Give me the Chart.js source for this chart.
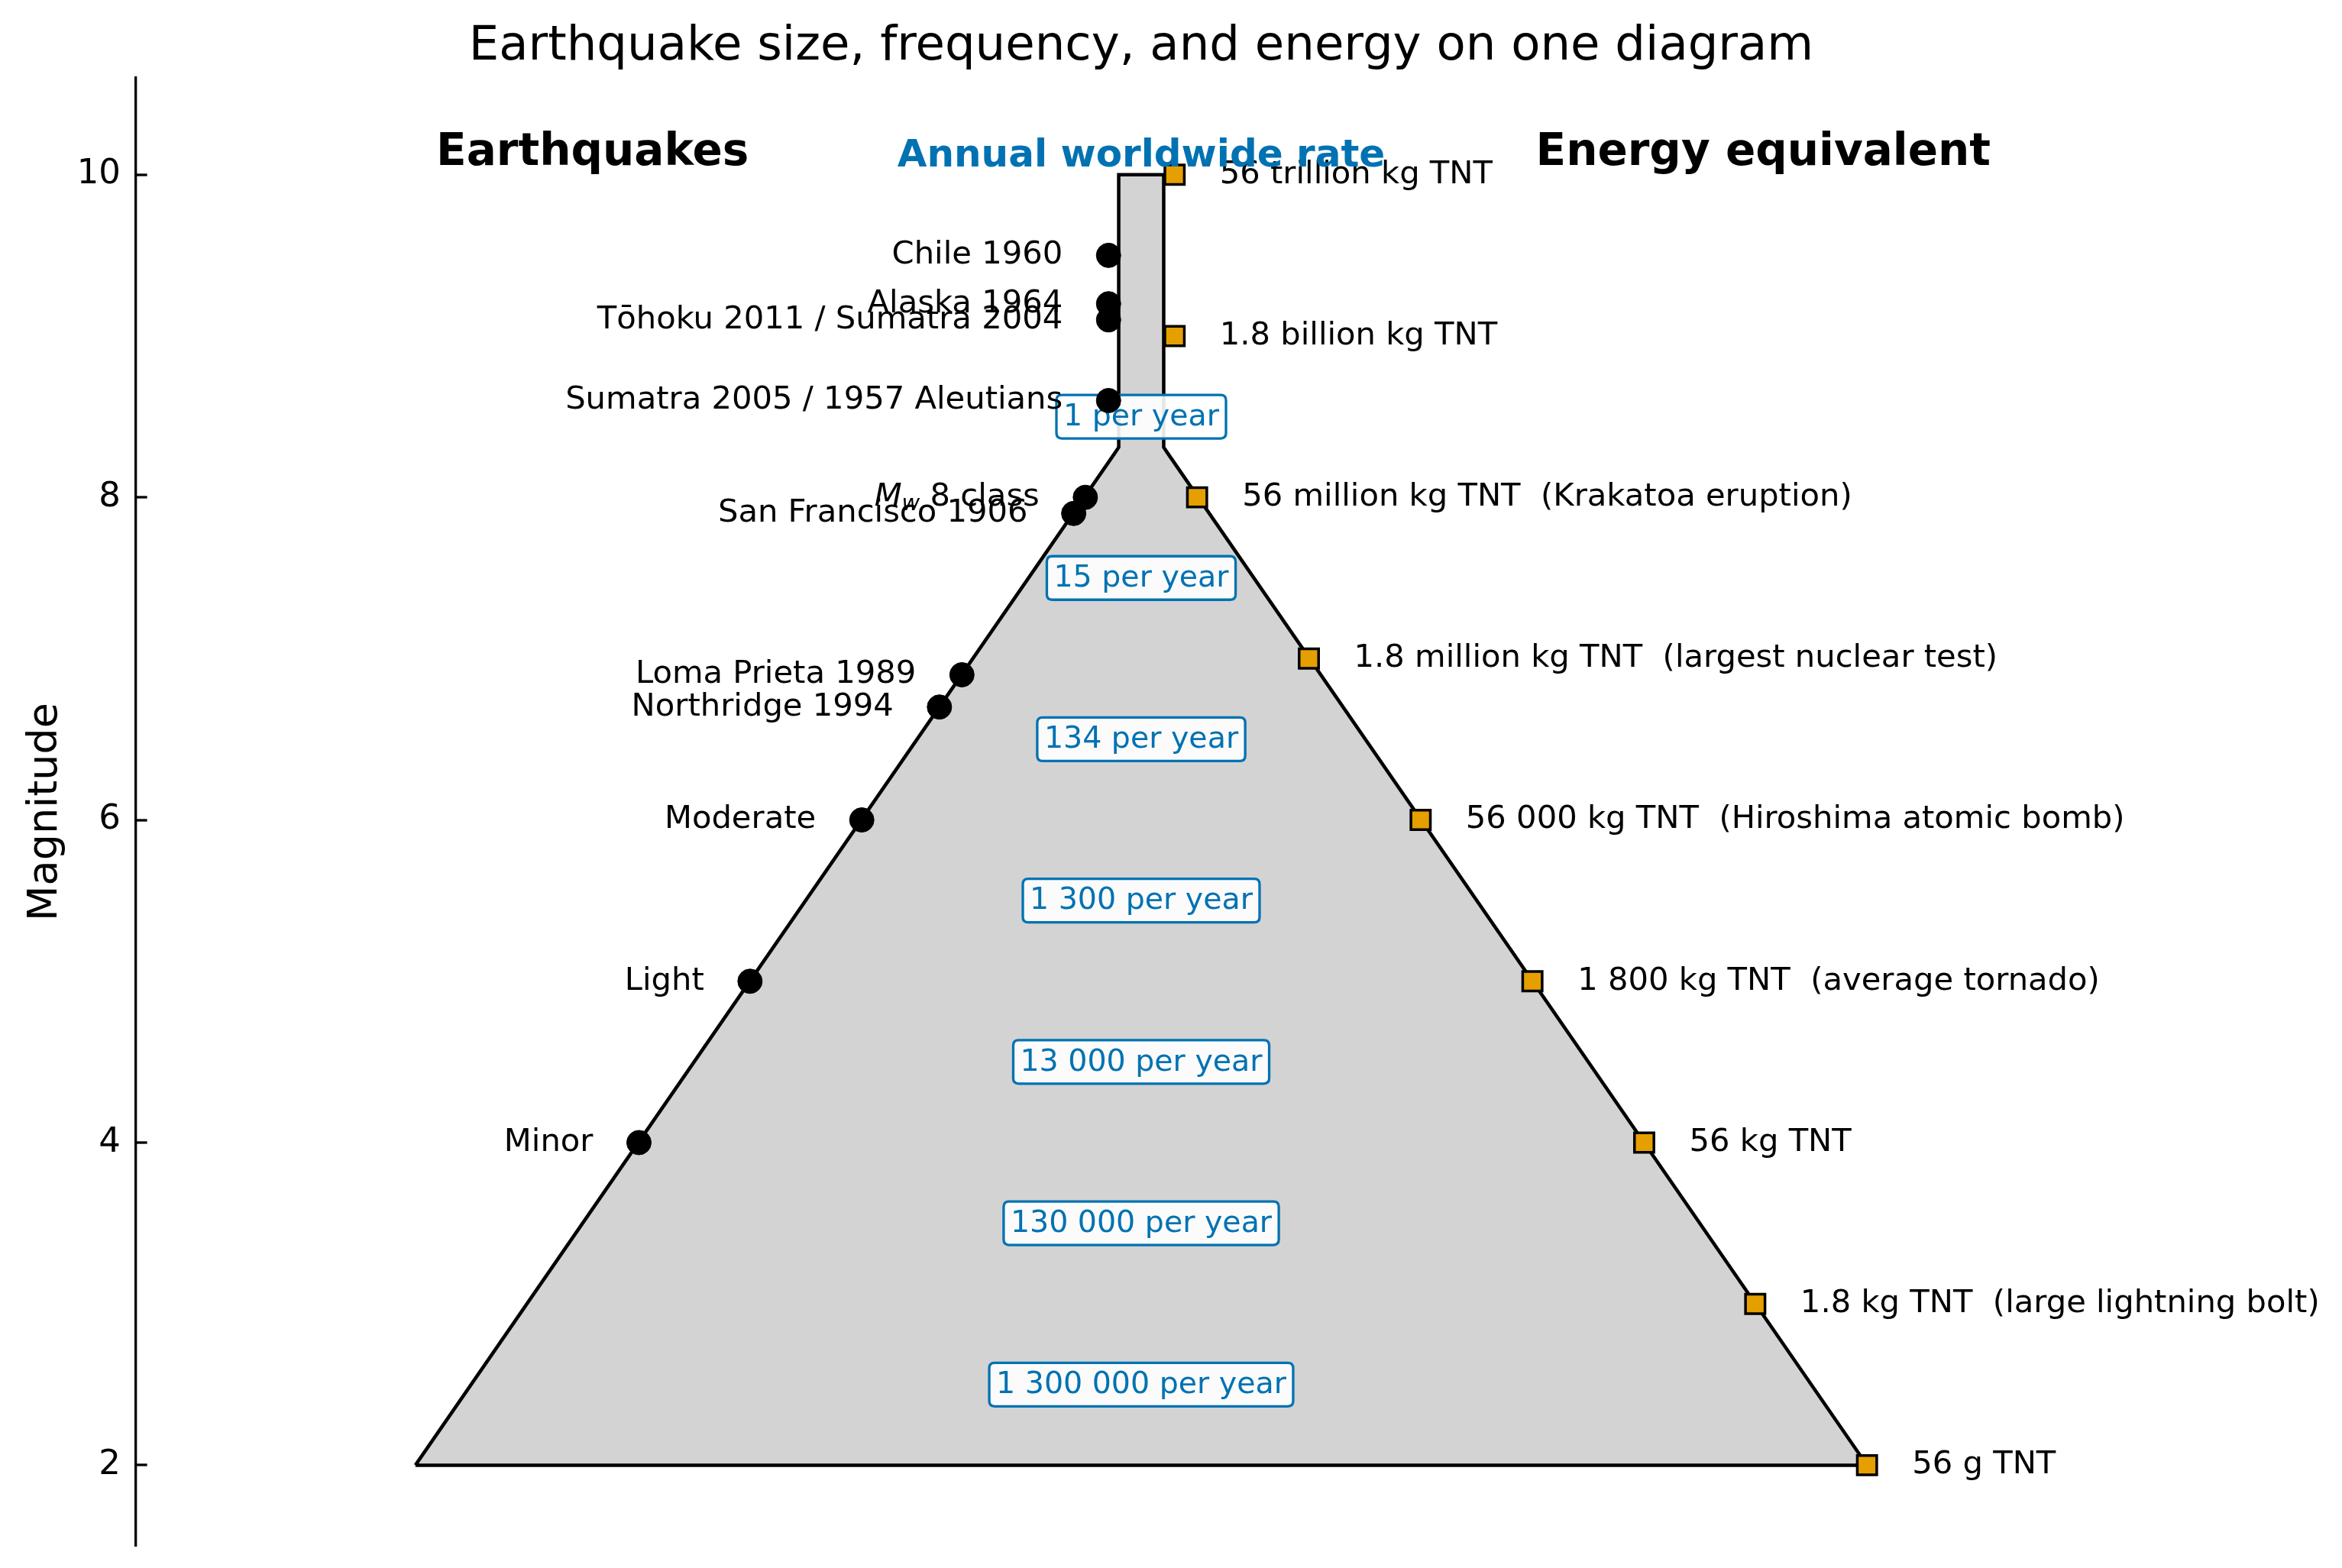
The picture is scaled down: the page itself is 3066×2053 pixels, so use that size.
<!DOCTYPE html>
<html>
<head>
<meta charset="utf-8">
<title>Earthquake size, frequency, and energy</title>
<script src="https://cdn.jsdelivr.net/npm/chart.js@4.4.1/dist/chart.umd.min.js"></script>
<style>
  html, body { margin: 0; padding: 0; background: #fff; }
  canvas { display: block; }
</style>
</head>
<body>
<canvas id="quakeChart" width="3066" height="2053" style="width:3066px;height:2053px"></canvas>
<script>
const FONT = "'DejaVu Sans', sans-serif";
const BLUE = '#0072B2';
const ORANGE = '#E69F00';

// axis
const yTicks = [2, 4, 6, 8, 10];
const yRange = [1.5, 10.6];
const xRange = [-1.385, 1.385];

// pyramid outline: wide base at M2, narrow column above ~M8.3
const pyramidX = [-1, -0.037, -0.031, -0.031, 0.031, 0.031, 0.037, 1, -1];
const pyramidY = [2, 8.27, 8.31, 10, 10, 8.31, 8.27, 2, 2];

// named earthquakes (left edge)
const quakeNames = ['Chile 1960', 'Alaska 1964', 'Tōhoku 2011 / Sumatra 2004', 'Sumatra 2005 / 1957 Aleutians',
  'Mw 8 class', 'San Francisco 1906', 'Loma Prieta 1989', 'Northridge 1994', 'Moderate', 'Light', 'Minor'];
const quakeMag = [9.5, 9.2, 9.1, 8.6, 8.0, 7.9, 6.9, 6.7, 6.0, 5.0, 4.0];
const quakeX = [-0.045, -0.045, -0.045, -0.045, -0.077, -0.093, -0.247, -0.278, -0.385, -0.539, -0.692];

// energy equivalents (right edge)
const energyText = ['56 trillion kg TNT', '1.8 billion kg TNT', '56 million kg TNT  (Krakatoa eruption)',
  '1.8 million kg TNT  (largest nuclear test)', '56 000 kg TNT  (Hiroshima atomic bomb)',
  '1 800 kg TNT  (average tornado)', '56 kg TNT', '1.8 kg TNT  (large lightning bolt)', '56 g TNT'];
const energyMag = [10, 9, 8, 7, 6, 5, 4, 3, 2];
const energyX = [0.046, 0.046, 0.077, 0.231, 0.385, 0.539, 0.693, 0.846, 1.0];

// annual worldwide rate per magnitude band
const rateText = ['1 per year', '15 per year', '134 per year', '1 300 per year', '13 000 per year',
  '130 000 per year', '1 300 000 per year'];
const rateMag = [8.5, 7.5, 6.5, 5.5, 4.5, 3.5, 2.5];

// column headers
const headerText = ['Earthquakes', 'Annual worldwide rate', 'Energy equivalent'];
const headerX = [-0.756, 0, 0.857];
const headerColor = ['#000', BLUE, '#000'];
const headerSize = [58, 50, 58];

function roundBox(ctx, x, y, w, h, r) {
  ctx.beginPath();
  ctx.moveTo(x + r, y);
  ctx.lineTo(x + w - r, y);
  ctx.quadraticCurveTo(x + w, y, x + w, y + r);
  ctx.lineTo(x + w, y + h - r);
  ctx.quadraticCurveTo(x + w, y + h, x + w - r, y + h);
  ctx.lineTo(x + r, y + h);
  ctx.quadraticCurveTo(x, y + h, x, y + h - r);
  ctx.lineTo(x, y + r);
  ctx.quadraticCurveTo(x, y, x + r, y);
  ctx.closePath();
}

const annotate = {
  id: 'annotate',
  // rate boxes sit above the pyramid but below the markers
  afterDatasetDraw(chart, args) {
    if (args.index !== 0) return;
    const { ctx, scales: { x, y } } = chart;
    ctx.save();
    ctx.font = `39.5px ${FONT}`;
    rateText.forEach((t, i) => {
      const cx = x.getPixelForValue(0), cy = y.getPixelForValue(rateMag[i]);
      const w = ctx.measureText(t).width + 18, h = 57;
      roundBox(ctx, cx - w / 2, cy - h / 2, w, h, 7);
      ctx.fillStyle = 'rgba(255,255,255,0.9)';
      ctx.fill();
      ctx.lineWidth = 3.3;
      ctx.strokeStyle = BLUE;
      ctx.stroke();
      ctx.fillStyle = BLUE;
      ctx.textAlign = 'center';
      ctx.textBaseline = 'middle';
      ctx.fillText(t, cx, cy + 1);
    });
    ctx.restore();
  },
  afterDatasetsDraw(chart) {
    const { ctx, scales: { x, y } } = chart;
    ctx.save();
    ctx.fillStyle = '#000';
    ctx.textBaseline = 'middle';

    quakeNames.forEach((name, i) => {
      const right = x.getPixelForValue(quakeX[i]) - 60;
      const py = y.getPixelForValue(quakeMag[i]);
      if (name.startsWith('Mw')) {
        const rest = name.slice(2);
        ctx.font = `italic 41.7px ${FONT}`;
        const wM = ctx.measureText('M').width;
        ctx.font = `italic 29px ${FONT}`;
        const ww = ctx.measureText('w').width;
        ctx.font = `41.7px ${FONT}`;
        const wr = ctx.measureText(rest).width;
        let left = right - wM - ww - wr;
        ctx.textAlign = 'left';
        ctx.font = `italic 41.7px ${FONT}`;
        ctx.fillText('M', left, py);
        ctx.font = `italic 29px ${FONT}`;
        ctx.fillText('w', left + wM, py + 9);
        ctx.font = `41.7px ${FONT}`;
        ctx.fillText(rest, left + wM + ww, py);
      } else {
        ctx.font = `41.7px ${FONT}`;
        ctx.textAlign = 'right';
        ctx.fillText(name, right, py);
      }
    });

    ctx.font = `41.7px ${FONT}`;
    ctx.textAlign = 'left';
    energyText.forEach((t, i) => {
      ctx.fillText(t, x.getPixelForValue(energyX[i]) + 59, y.getPixelForValue(energyMag[i]));
    });

    ctx.textAlign = 'center';
    ctx.textBaseline = 'alphabetic';
    headerText.forEach((t, i) => {
      ctx.font = `bold ${headerSize[i]}px ${FONT}`;
      ctx.fillStyle = headerColor[i];
      ctx.fillText(t, x.getPixelForValue(headerX[i]), y.getPixelForValue(10) - 0.22 * headerSize[i]);
    });
    ctx.restore();
  },
  afterDraw(chart) {
    const { ctx, chartArea, scales: { y } } = chart;
    ctx.save();
    // inward tick marks
    ctx.strokeStyle = '#000';
    ctx.lineWidth = 3.3;
    yTicks.forEach(v => {
      const py = Math.round(y.getPixelForValue(v));
      ctx.beginPath();
      ctx.moveTo(chartArea.left, py);
      ctx.lineTo(chartArea.left + 14.6, py);
      ctx.stroke();
    });
    // title
    ctx.fillStyle = '#000';
    ctx.font = `62.5px ${FONT}`;
    ctx.textAlign = 'center';
    ctx.textBaseline = 'alphabetic';
    ctx.fillText('Earthquake size, frequency, and energy on one diagram', (chartArea.left + chartArea.right) / 2, 78);
    ctx.restore();
  }
};

new Chart(document.getElementById('quakeChart'), {
  type: 'scatter',
  data: {
    datasets: [
      {
        label: 'Magnitude pyramid',
        data: pyramidX.map((v, i) => ({ x: v, y: pyramidY[i] })),
        showLine: true,
        fill: 'shape',
        backgroundColor: '#d3d3d3',
        borderColor: '#000',
        borderWidth: 4.5,
        borderJoinStyle: 'miter',
        pointRadius: 0,
        tension: 0,
        order: 3,
      },
      {
        label: 'Earthquakes',
        data: quakeX.map((v, i) => ({ x: v, y: quakeMag[i] })),
        backgroundColor: '#000',
        borderColor: '#000',
        borderWidth: 1,
        pointRadius: 16,
        order: 1,
      },
      {
        label: 'Energy equivalent',
        data: energyX.map((v, i) => ({ x: v, y: energyMag[i] })),
        pointStyle: 'rect',
        backgroundColor: ORANGE,
        borderColor: '#000',
        borderWidth: 3.5,
        pointRadius: 18,
        order: 1,
      },
    ],
  },
  options: {
    responsive: false,
    devicePixelRatio: 1,
    animation: false,
    events: [],
    layout: { padding: { top: 102, bottom: 29, left: 0, right: 256 } },
    plugins: { legend: { display: false }, tooltip: { enabled: false }, title: { display: false } },
    scales: {
      x: { type: 'linear', min: xRange[0], max: xRange[1], display: false },
      y: {
        type: 'linear',
        min: yRange[0],
        max: yRange[1],
        afterBuildTicks: (scale) => { scale.ticks = yTicks.map(v => ({ value: v })); },
        afterFit: (scale) => {
          scale.width = 178;
          scale.paddingTop = 0;
          scale.paddingBottom = 0;
        },
        grid: { display: false, drawTicks: false },
        border: { display: true, color: '#000', width: 3.3 },
        ticks: { color: '#000', padding: 20, font: { family: FONT, size: 45 } },
        title: { display: true, text: 'Magnitude', color: '#000', font: { family: FONT, size: 54 }, padding: { top: 28, bottom: 0 } },
      },
    },
  },
  plugins: [annotate],
});
</script>
</body>
</html>
